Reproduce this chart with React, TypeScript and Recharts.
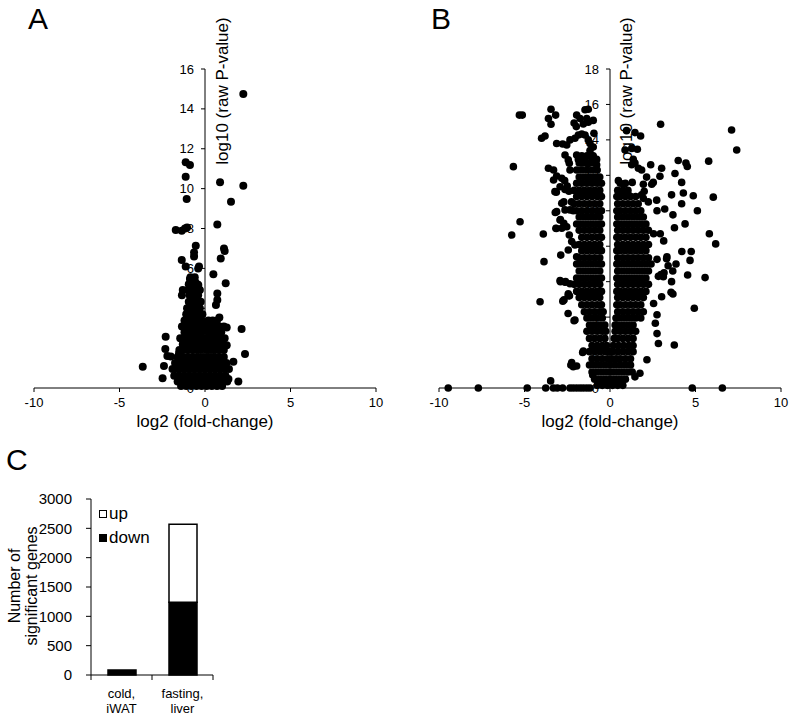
import React from 'react';
import { ScatterChart, Scatter, XAxis, YAxis, ReferenceLine, BarChart, Bar, Legend } from 'recharts';

const FONT = '"Liberation Sans", Arial, Helvetica, sans-serif';

// ---------- shared volcano axes ----------
const xTicks = [-10, -5, 0, 5, 10];
const yTicksA = [0, 2, 4, 6, 8, 10, 12, 14, 16];
const yTicksB = [0, 2, 4, 6, 8, 10, 12, 14, 16, 18];

// ---------- panel A (cold, iWAT): log2 fold-change vs -log10 p ----------
const outliersA: [number, number][] = [
  [2.24, 14.74], [-1.13, 11.32], [-0.88, 11.18], [-1.13, 10.6], [0.88, 10.32], [2.24, 10.15],
  [-1.07, 9.48], [1.52, 9.34], [0.72, 8.2], [-1.71, 7.92], [-1.36, 7.89], [-1.17, 8.0], [-1.05, 8.05],
  [-0.54, 7.14], [1.11, 7.0], [1.15, 6.87], [-0.64, 6.8], [-0.64, 6.6], [0.92, 6.5], [-1.36, 6.42],
  [-1.13, 6.1], [-0.35, 6.1], [-0.4, 6.0], [0.49, 5.7], [1.21, 5.25], [-0.88, 5.47], [-0.58, 5.33],
  [-0.39, 5.17], [-0.54, 5.08], [0.72, 4.74], [0.72, 4.41], [0.64, 4.16], [0.84, 3.53], [2.14, 2.96],
  [1.27, 3.04], [-2.3, 2.57], [-2.32, 1.96], [1.27, 2.15], [2.34, 1.7], [-1.52, 1.74], [-2.2, 1.6],
  [-2.0, 1.58], [1.66, 1.32], [-3.64, 1.07], [-2.4, 1.1], [-2.48, 0.49], [1.95, 0.32], [1.37, 0.45],
];
const blobRowsA: [number, number[]][] = [
  [5.55, [-0.85, -0.6]],
  [5.2, [-0.95, -0.7, -0.45]],
  [4.92, [-1.3, -1.0, -0.75, -0.5, -0.3]],
  [4.65, [-1.35, -0.9, -0.65, -0.4]],
  [4.32, [-0.95, -0.7, -0.45, -0.25]],
  [4.0, [-1.05, -0.8, -0.55, -0.3]],
  [3.7, [-1.1, -0.85, -0.6, -0.35, -0.15]],
  [3.38, [-1.2, -0.95, -0.7, -0.45, -0.2, 0.2, 0.45, 0.7]],
  [3.08, [-1.35, -1.1, -0.85, -0.6, -0.35, -0.1, 0.1, 0.35, 0.6, 0.85, 1.1]],
  [2.8, [-1.2, -0.95, -0.7, -0.45, -0.2, 0.2, 0.45, 0.7, 0.95]],
  [2.5, [-1.45, -1.2, -0.9, -0.65, -0.4, -0.15, 0.1, 0.35, 0.6, 0.85, 1.15]],
  [2.2, [-1.3, -1.05, -0.8, -0.55, -0.3, -0.05, 0.2, 0.45, 0.7, 0.95]],
  [1.9, [-1.5, -1.25, -1.0, -0.75, -0.5, -0.25, 0.1, 0.35, 0.6, 0.85, 1.1]],
  [1.55, [-1.6, -1.3, -1.0, -0.7, -0.4, -0.1, 0.2, 0.5, 0.8, 1.1]],
  [1.25, [-1.75, -1.45, -1.15, -0.85, -0.55, -0.25, 0.05, 0.35, 0.65, 0.95, 1.25]],
  [0.95, [-1.9, -1.6, -1.3, -1.0, -0.7, -0.4, -0.1, 0.2, 0.5, 0.8, 1.1, 1.4]],
  [0.62, [-1.8, -1.5, -1.2, -0.9, -0.6, -0.3, 0.0, 0.3, 0.6, 0.9, 1.2]],
  [0.32, [-1.6, -1.3, -1.0, -0.7, -0.4, -0.1, 0.2, 0.5, 0.8, 1.1, 1.3]],
  [0.1, [-1.4, -1.1, -0.8, -0.5, -0.2, 0.1, 0.4, 0.7, 1.0]],
];

// ---------- panel B (fasting, liver) ----------
const outliersB: [number, number][] = [
  [-5.3, 15.4], [-5.13, 15.4], [-3.45, 15.73], [-3.18, 15.4], [-3.6, 15.2], [-3.45, 14.88],
  [-4.0, 14.09], [-3.8, 14.22], [-5.65, 12.49], [-3.12, 13.8], [-2.77, 13.77], [-2.53, 13.71],
  [-2.34, 14.0], [-2.05, 14.09], [-1.85, 14.28], [-1.65, 14.33], [-1.95, 15.4], [-1.75, 15.2],
  [-1.46, 15.7], [-1.27, 15.73], [-2.1, 14.95], [-1.97, 14.75], [-1.36, 15.2], [-0.98, 15.1],
  [-1.56, 14.9], [-1.27, 15.0], [-0.94, 14.37], [-1.17, 13.8], [-0.98, 13.6], [-1.46, 14.28],
  [-1.27, 14.0], [-3.6, 12.4], [-3.3, 12.3], [-3.3, 11.74], [-3.12, 11.96], [-2.82, 11.83],
  [-2.34, 12.3], [-2.63, 13.15], [-2.44, 12.87], [-2.38, 12.68], [-1.95, 13.15], [-1.85, 12.9],
  [-1.66, 12.7], [-1.17, 13.4], [-0.98, 13.1], [-0.78, 12.9], [-1.07, 12.8], [-0.78, 12.6],
  [-1.45, 13.0], [-1.3, 12.65], [-2.92, 11.36], [-3.22, 11.08], [-2.63, 11.2],
  [-5.26, 9.38], [-5.75, 8.63], [-3.9, 8.69], [-3.86, 7.13], [-2.88, 7.5], [-4.09, 4.87],
  [-2.9, 6.0], [-2.6, 6.0], [-2.37, 5.2], [-2.76, 4.9], [-2.45, 4.2], [-2.1, 3.8], [-1.6, 2.0],
  [-2.29, 1.3], [-2.15, 1.2], [-3.47, 0.4], [-1.01, 0.73], [-1.56, 2.09],
  [-2.7, 10.5], [-2.25, 10.5], [-2.15, 10.0], [-3.2, 9.9], [-2.9, 9.5], [-2.7, 9.3], [-3.14, 9.0],
  [-2.65, 11.7], [-2.5, 11.4], [-3.14, 11.05], [-2.4, 11.1],
  [-2.82, 10.42], [-2.63, 10.05], [-2.34, 10.05], [-3.12, 9.95], [-2.92, 9.48], [-2.82, 9.01],
  [-3.16, 9.01], [-2.53, 9.1], [-2.38, 8.63], [-2.24, 8.26], [-2.05, 8.07], [-2.44, 7.79],
  [-1.95, 7.41], [-2.92, 6.06], [-2.63, 5.97], [-2.34, 5.88], [-2.44, 5.32], [-2.69, 4.97],
  [-2.44, 5.21], [-2.05, 3.84], [-2.24, 1.43], [-1.95, 1.24],
  [2.96, 14.88], [7.11, 14.56], [7.41, 13.43], [0.97, 14.52], [1.46, 14.41], [1.79, 14.22],
  [0.88, 13.43], [1.27, 13.52], [1.6, 13.47], [1.36, 12.9], [1.46, 12.7], [1.27, 12.6], [1.66, 12.4],
  [1.85, 12.3], [2.38, 12.6], [3.02, 12.4], [3.99, 12.84], [4.44, 12.7], [4.52, 12.5], [5.77, 12.8],
  [0.49, 11.7], [0.82, 11.5], [1.3, 11.6], [2.14, 11.9], [1.95, 11.5], [2.44, 11.5], [2.53, 11.6],
  [2.92, 11.95], [3.8, 12.1], [4.19, 11.6], [0.86, 11.0], [1.13, 10.85], [1.85, 10.9], [2.0, 11.1],
  [3.6, 10.9], [4.29, 11.0], [4.87, 10.85], [6.04, 10.77],
  [1.95, 10.7], [2.24, 10.5], [2.73, 10.6], [4.19, 10.4], [5.11, 10.0], [4.39, 9.26], [5.81, 8.7],
  [6.18, 8.13], [4.2, 7.7], [4.75, 7.7], [4.68, 7.2], [3.86, 7.0], [3.31, 7.3], [3.16, 6.5],
  [3.6, 6.0], [4.54, 6.38], [5.56, 6.23], [2.98, 6.4], [3.4, 6.9], [3.67, 6.6], [3.57, 5.4],
  [4.93, 4.5], [3.68, 5.3], [3.76, 2.43], [2.55, 8.7], [2.94, 8.7], [3.14, 8.3], [2.75, 7.26],
  [3.33, 7.4], [2.83, 6.3], [3.12, 6.28], [3.02, 5.15], [2.55, 4.77], [2.75, 4.13], [2.65, 3.65],
  [2.75, 3.07], [2.83, 2.51], [2.16, 1.59], [1.46, 0.63], [1.75, 0.83], [3.68, 9.77], [3.77, 9.04],
  [2.75, 10.0], [3.2, 10.1],
];
const zeroRowB: number[] = [
  -9.46, -7.7, -4.84, -3.76, -3.31, -3.08, -2.77, -2.34, -2.15, -1.95, -1.75, -1.56, -1.36, -1.17, 4.81, 6.57,
];
const blobRowsB: [number, number[]][] = [
  [13.1, [-1.65, -1.35, -1.05]],
  [12.7, [-1.8, -1.5, -1.2, -0.9]],
  [12.3, [-1.95, -1.65, -1.35, -1.05, -0.75]],
  [11.9, [-1.8, -1.5, -1.2, -0.9, -0.6]],
  [11.55, [-1.95, -1.65, -1.35, -1.05, -0.75, -0.5, 0.6, 0.9]],
  [11.15, [-2.1, -1.8, -1.5, -1.2, -0.9, -0.6, 0.45, 0.75, 1.05]],
  [10.8, [-1.95, -1.65, -1.35, -1.05, -0.75, -0.5, 0.4, 0.6, 0.9, 1.2, 1.5]],
  [10.4, [-2.1, -1.8, -1.5, -1.2, -0.9, -0.6, 0.45, 0.75, 1.05, 1.35, 1.65]],
  [10.0, [-1.95, -1.65, -1.35, -1.05, -0.75, -0.5, 0.4, 0.6, 0.9, 1.2, 1.5, 1.8]],
  [9.65, [-1.8, -1.5, -1.2, -0.9, -0.6, 0.45, 0.75, 1.05, 1.35, 1.65, 1.95]],
  [9.25, [-1.95, -1.65, -1.35, -1.05, -0.75, -0.5, 0.4, 0.6, 0.9, 1.2, 1.5, 1.8, 2.1]],
  [8.9, [-1.8, -1.5, -1.2, -0.9, -0.6, 0.45, 0.75, 1.05, 1.35, 1.65, 1.95, 2.25]],
  [8.5, [-1.65, -1.35, -1.05, -0.75, -0.5, 0.4, 0.6, 0.9, 1.2, 1.5, 1.8, 2.1]],
  [8.1, [-1.8, -1.5, -1.2, -0.9, -0.6, 0.45, 0.75, 1.05, 1.35, 1.65, 1.95, 2.25]],
  [7.75, [-1.65, -1.35, -1.05, -0.75, -0.5, 0.4, 0.6, 0.9, 1.2, 1.5, 1.8, 2.1]],
  [7.35, [-1.8, -1.5, -1.2, -0.9, -0.6, 0.45, 0.75, 1.05, 1.35, 1.65, 1.95, 2.25]],
  [7.0, [-1.95, -1.65, -1.35, -1.05, -0.75, -0.5, 0.4, 0.6, 0.9, 1.2, 1.5, 1.8, 2.1, 2.4]],
  [6.6, [-1.8, -1.5, -1.2, -0.9, -0.6, 0.45, 0.75, 1.05, 1.35, 1.65, 1.95, 2.25]],
  [6.2, [-1.95, -1.65, -1.35, -1.05, -0.75, -0.5, 0.4, 0.6, 0.9, 1.2, 1.5, 1.8, 2.1]],
  [5.85, [-2.1, -1.8, -1.5, -1.2, -0.9, -0.6, 0.45, 0.75, 1.05, 1.35, 1.65, 1.95, 2.25]],
  [5.45, [-1.95, -1.65, -1.35, -1.05, -0.75, -0.5, 0.4, 0.6, 0.9, 1.2, 1.5, 1.8, 2.1]],
  [5.1, [-1.8, -1.5, -1.2, -0.9, -0.6, 0.45, 0.75, 1.05, 1.35, 1.65, 1.95]],
  [4.7, [-1.65, -1.35, -1.05, -0.75, -0.5, 0.4, 0.6, 0.9, 1.2, 1.5, 1.8]],
  [4.3, [-1.5, -1.2, -0.9, -0.6, -0.4, 0.45, 0.75, 1.05, 1.35, 1.65, 1.95]],
  [3.95, [-1.35, -1.05, -0.75, -0.45, 0.35, 0.6, 0.9, 1.2, 1.5, 1.8]],
  [3.55, [-1.2, -0.9, -0.6, -0.3, 0.3, 0.45, 0.75, 1.05, 1.35]],
  [3.2, [-1.35, -1.05, -0.75, -0.45, -0.25, 0.3, 0.6, 0.9, 1.2, 1.5]],
  [2.8, [-1.2, -0.9, -0.6, -0.3, 0.25, 0.45, 0.75, 1.05, 1.35]],
  [2.4, [-1.05, -0.75, -0.45, -0.2, 0.2, 0.5, 0.8, 1.1, 1.35]],
  [2.05, [-1.2, -0.9, -0.6, -0.3, -0.05, 0.15, 0.45, 0.75, 1.05, 1.35]],
  [1.65, [-1.05, -0.75, -0.45, -0.15, 0.1, 0.35, 0.6, 0.9, 1.2]],
  [1.3, [-1.2, -0.9, -0.6, -0.3, 0.0, 0.3, 0.6, 0.9, 1.2]],
  [0.9, [-1.05, -0.75, -0.45, -0.15, 0.15, 0.45, 0.75, 1.05, 1.3]],
  [0.5, [-0.9, -0.6, -0.3, 0.0, 0.3, 0.6, 0.9]],
  [0.15, [-0.75, -0.45, -0.15, 0.15, 0.45, 0.75]],
];

// ---------- panel C ----------
const categoriesC = ['cold, iWAT', 'fasting, liver'];
const downC = [85, 1240];
const upC = [0, 1330];
const yTicksC = [0, 500, 1000, 1500, 2000, 2500, 3000];

// ---------- derived tables ----------
const toPts = (pairs: [number, number][]) => pairs.map(([x, y]) => ({ x, y }));
const fromRows = (rows: [number, number[]][]) => rows.flatMap(([y, xs]) => xs.map((x) => ({ x, y })));
const pointsA = [...toPts(outliersA), ...fromRows(blobRowsA)];
const pointsB = [...toPts(outliersB), ...zeroRowB.map((x) => ({ x, y: 0 })), ...fromRows(blobRowsB)];
const barData = categoriesC.map((name, i) => ({ name, down: downC[i], up: upC[i] }));

const dotShape = (r: number) => (p: any) => <circle cx={p.cx} cy={p.cy} r={r} fill="#000" />;

const yTickShape = (p: any) => (
  <g>
    <line x1={p.cx - 4} x2={p.cx} y1={p.cy} y2={p.cy} stroke="#000" strokeWidth={1} />
    <text x={p.cx - 11} y={p.cy} textAnchor="end" dominantBaseline="central" fontSize={13} fontFamily={FONT} fill="#000">
      {p.payload.y}
    </text>
  </g>
);

function Volcano({ points, yTicks, yMax, r, width, margin }: any) {
  const tickPts = yTicks.map((y: number) => ({ x: 0, y }));
  return (
    <ScatterChart width={width} height={440} margin={margin}>
      <XAxis
        type="number"
        dataKey="x"
        domain={[-10, 10]}
        ticks={xTicks}
        interval={0}
        height={30}
        tickSize={4}
        tickMargin={6}
        axisLine={{ stroke: '#000' }}
        tickLine={{ stroke: '#000' }}
        tick={{ fill: '#000', fontSize: 13, fontFamily: FONT }}
      />
      <YAxis type="number" dataKey="y" domain={[0, yMax]} hide width={0} />
      <Scatter data={points} shape={dotShape(r)} isAnimationActive={false} />
      <ReferenceLine x={0} stroke="#000" strokeWidth={1} />
      <Scatter data={tickPts} shape={yTickShape} isAnimationActive={false} />
    </ScatterChart>
  );
}

const CatTick = (p: any) => {
  const [a, b] = String(p.payload.value).split(', ');
  const half = p.payload && typeof p.payload.offset === 'number' && p.payload.offset > 0 ? p.payload.offset : 30.5;
  return (
    <g>
      {p.index === 0 && <line x1={p.x - half} x2={p.x - half} y1={p.y} y2={p.y + 5} stroke="#000" />}
      <line x1={p.x + half} x2={p.x + half} y1={p.y} y2={p.y + 5} stroke="#000" />
      <text x={p.x} y={p.y + 23} textAnchor="middle" fontSize={13} fontFamily={FONT} fill="#000">{a},</text>
      <text x={p.x} y={p.y + 38} textAnchor="middle" fontSize={13} fontFamily={FONT} fill="#000">{b}</text>
    </g>
  );
};

const LegendBox = (props: any) => {
  const items = [...(props.payload || [])].reverse();
  return (
    <div style={{ fontFamily: FONT, fontSize: 17, color: '#000' }}>
      {items.map((it: any) => (
        <div key={it.value} style={{ display: 'flex', alignItems: 'center', height: 24 }}>
          <span
            style={{
              display: 'inline-block',
              width: 6,
              height: 6,
              border: '1px solid #000',
              background: (it.payload && it.payload.fill) || it.color,
              marginRight: 2,
            }}
          />
          <span>{it.value}</span>
        </div>
      ))}
    </div>
  );
};

export default function App() {
  return (
    <div style={{ position: 'absolute', left: 0, top: 0, width: 790, height: 717, background: '#fff', fontFamily: FONT }}>
      <svg width={790} height={717} style={{ position: 'absolute', left: 0, top: 0 }} fontFamily={FONT} fill="#000">
        <text x={28} y={29} fontSize={30}>A</text>
        <text x={431} y={29} fontSize={30}>B</text>
        <text x={6} y={470} fontSize={30}>C</text>
        <text x={205} y={427} fontSize={17} textAnchor="middle">log2 (fold-change)</text>
        <text x={610} y={427} fontSize={17} textAnchor="middle">log2 (fold-change)</text>
        <text x={222} y={91} fontSize={17} textAnchor="middle" dominantBaseline="central" transform="rotate(-90 222 91)">
          log10 (raw P-value)
        </text>
        <text x={626} y={91} fontSize={17} textAnchor="middle" dominantBaseline="central" transform="rotate(-90 626 91)">
          log10 (raw P-value)
        </text>
        <text x={14} y={586} fontSize={16} textAnchor="middle" dominantBaseline="central" transform="rotate(-90 14 586)">
          Number of
        </text>
        <text x={31} y={586} fontSize={16} textAnchor="middle" dominantBaseline="central" transform="rotate(-90 31 586)">
          significant genes
        </text>
      </svg>

      <div style={{ position: 'absolute', left: 0, top: 0 }}>
        <Volcano points={pointsA} yTicks={yTicksA} yMax={16} r={4} width={400} margin={{ top: 69, right: 24, bottom: 22, left: 34 }} />
      </div>

      <div style={{ position: 'absolute', left: 400, top: 0 }}>
        <Volcano points={pointsB} yTicks={yTicksB} yMax={18} r={3.8} width={390} margin={{ top: 69, right: 9, bottom: 22, left: 39 }} />
      </div>

      <div style={{ position: 'absolute', left: 0, top: 480 }}>
        <BarChart width={240} height={237} data={barData} margin={{ top: 19, right: 27, bottom: 2, left: 0 }}>
          <XAxis dataKey="name" tick={CatTick} tickLine={false} tickSize={0} tickMargin={0} axisLine={{ stroke: '#000' }} height={40} interval={0} />
          <YAxis
            type="number"
            domain={[0, 3000]}
            ticks={yTicksC}
            interval={0}
            width={91}
            tickSize={5}
            tickMargin={14}
            axisLine={{ stroke: '#000' }}
            tickLine={{ stroke: '#000' }}
            tick={{ fill: '#000', fontSize: 15, fontFamily: FONT }}
          />
          <Legend
            content={LegendBox}
            layout="horizontal"
            verticalAlign="middle"
            align="center"
            wrapperStyle={{ left: 99, top: 22, width: 80 }}
          />
          <Bar dataKey="down" name="down" stackId="s" fill="#000" stroke="#000" strokeWidth={1.5} barSize={28} isAnimationActive={false} />
          <Bar dataKey="up" name="up" stackId="s" fill="#fff" stroke="#000" strokeWidth={1.5} barSize={28} isAnimationActive={false} />
        </BarChart>
      </div>
    </div>
  );
}
